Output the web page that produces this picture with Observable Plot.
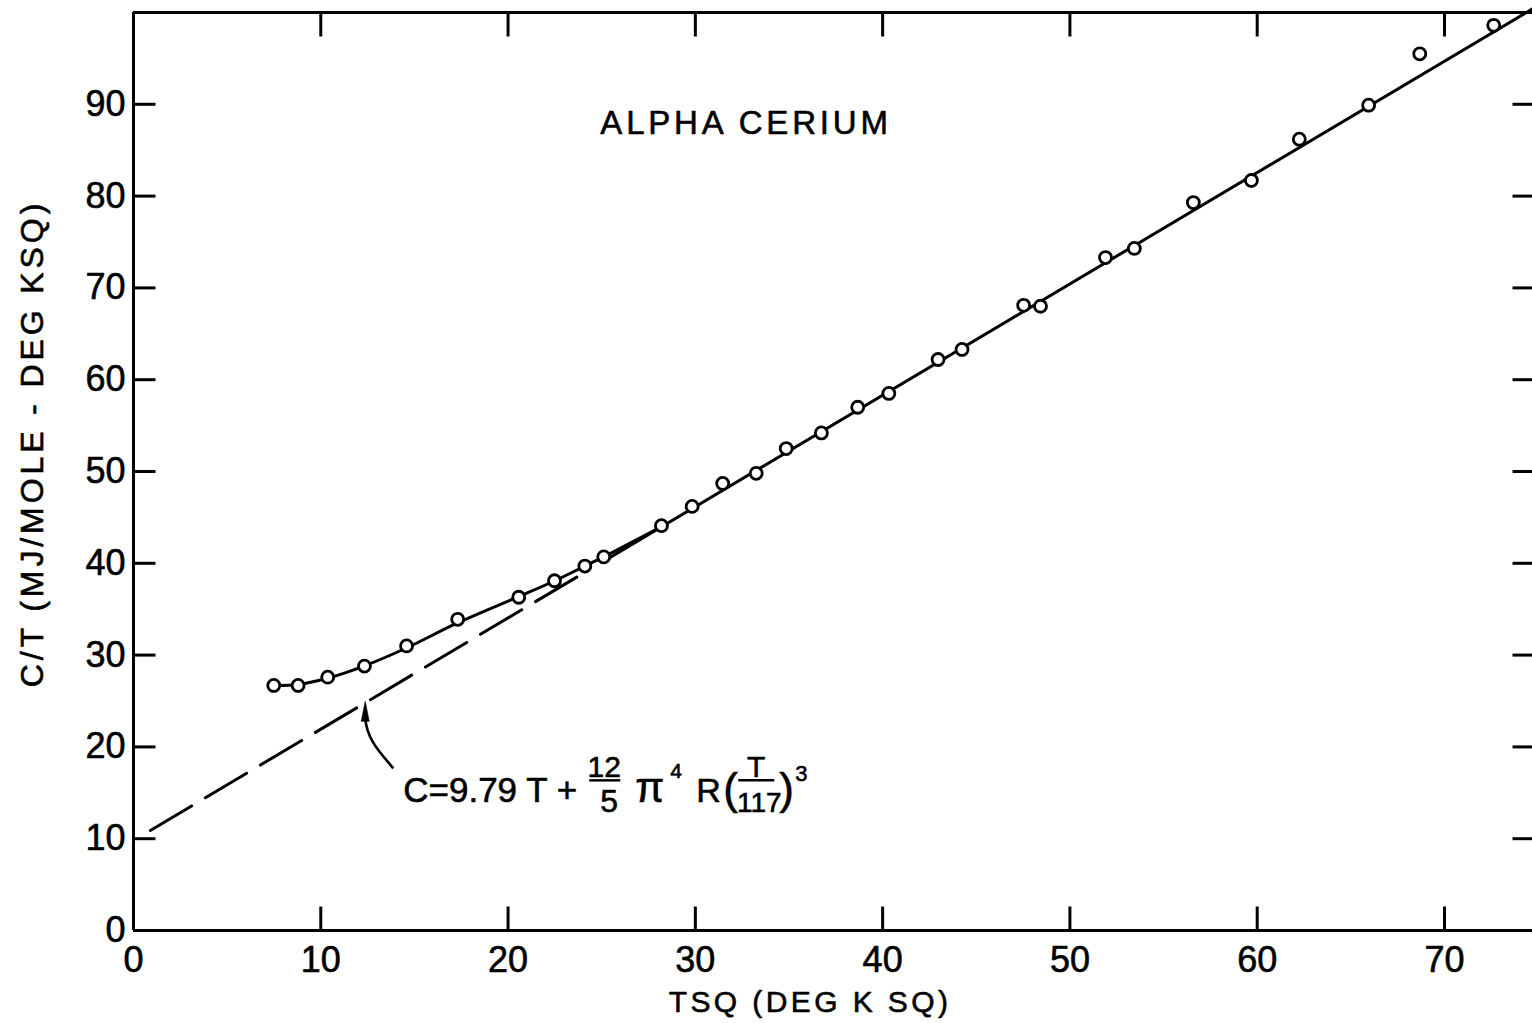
<!DOCTYPE html>
<html>
<head>
<meta charset="utf-8">
<script src="https://cdn.jsdelivr.net/npm/d3@7"></script>
<script src="https://cdn.jsdelivr.net/npm/@observablehq/plot@0.6"></script>
<style>
  html, body { margin: 0; padding: 0; background: #fff; }
  #chart svg { display: block; }
</style>
</head>
<body>
<div id="chart"></div>
<script>
// ---- data ----
const tsq = [7.49, 8.79, 10.37, 12.33, 14.58, 17.31, 20.57, 22.48, 24.10, 25.11, 28.19, 29.83,
             31.46, 33.25, 34.85, 36.73, 38.67, 40.33, 42.96, 44.24, 47.53, 48.43, 51.9, 53.44,
             56.59, 59.69, 62.25, 65.95, 68.68, 72.63];
const cOverT = [26.7, 26.7, 27.6, 28.8, 31.0, 33.9, 36.3, 38.1, 39.7, 40.7, 44.1, 46.2,
                48.7, 49.8, 52.5, 54.2, 57.0, 58.5, 62.2, 63.3, 68.1, 68.0, 73.3, 74.3,
                79.3, 81.7, 86.2, 89.9, 95.5, 98.6];
// smooth curve through the low-temperature points
const curveX = [7.5, 8.8, 10.4, 12.3, 14.6, 17.3, 20.6, 22.5, 24.1, 25.1, 28.2];
const curveY = [26.7, 26.8, 27.5, 28.8, 30.8, 33.5, 36.4, 38.1, 39.7, 40.7, 44.0];
// straight Debye-fit line: dashed part and solid part
const dashX = [0.9, 24.0];
const dashY = [10.9, 38.9];
const fitX = [25.0, 74.7];
const fitY = [40.1, 100.4];
// axes
const xTicks = [0, 10, 20, 30, 40, 50, 60, 70];
const yTicks = [0, 10, 20, 30, 40, 50, 60, 70, 80, 90];
const xMax = 74.7;
const yMax = 100;
const title = "ALPHA CERIUM";
const xLabel = "TSQ (DEG K SQ)";
const yLabel = "C/T (MJ/MOLE - DEG KSQ)";
// annotation: arrow tip on the dashed line
const arrowTip = {x: 12.4, y: 24.8};

// ---- build tables ----
const points = tsq.map((x, i) => ({x, y: cOverT[i]}));
const curve = curveX.map((x, i) => ({x, y: curveY[i]}));
const dash = dashX.map((x, i) => ({x, y: dashY[i]}));
const fit = fitX.map((x, i) => ({x, y: fitY[i]}));

const FONT = "'Liberation Sans', Arial, sans-serif";
const tickSym = (dx, dy) => ({draw(ctx) { ctx.moveTo(0, 0); ctx.lineTo(dx, dy); }});
const inner = (arr) => arr.filter(d => d !== 0);

const plot = Plot.plot({
  width: 1532,
  height: 1023,
  marginLeft: 133,
  marginRight: 0,
  marginTop: 12,
  marginBottom: 93,
  x: {domain: [0, xMax], axis: null},
  y: {domain: [0, yMax], axis: null},
  style: {fontFamily: FONT, background: "#fff", color: "#000", overflow: "visible"},
  marks: [
    // frame (left, bottom, top)
    Plot.ruleX([0], {stroke: "#000", strokeWidth: 3}),
    Plot.ruleY([0], {stroke: "#000", strokeWidth: 3}),
    Plot.ruleY([yMax], {stroke: "#000", strokeWidth: 3}),
    // inward ticks on all four sides
    Plot.dot(inner(xTicks), {x: d => d, y: () => 0, r: 1, symbol: tickSym(0, -24), stroke: "#000", strokeWidth: 3, fill: "none"}),
    Plot.dot(inner(xTicks), {x: d => d, y: () => yMax, r: 1, symbol: tickSym(0, 24), stroke: "#000", strokeWidth: 3, fill: "none"}),
    Plot.dot(inner(yTicks), {x: () => 0, y: d => d, r: 1, symbol: tickSym(22, 0), stroke: "#000", strokeWidth: 3, fill: "none"}),
    Plot.dot(inner(yTicks), {x: () => xMax, y: d => d, r: 1, symbol: tickSym(-20, 0), stroke: "#000", strokeWidth: 3, fill: "none"}),
    // tick labels
    Plot.text(xTicks, {x: d => d, y: () => 0, text: d => String(d), dy: 30, fontSize: 36, fill: "#000", stroke: "#000", strokeWidth: 0.6}),
    Plot.text(yTicks, {x: () => 0, y: d => d, text: d => String(d), dx: -8, textAnchor: "end", fontSize: 36, fill: "#000", stroke: "#000", strokeWidth: 0.6}),
    // axis labels and title
    Plot.text([xLabel], {frameAnchor: "bottom", text: d => d, dx: -23, dy: 72, textAnchor: "middle", lineAnchor: "middle", fontSize: 30, fill: "#000", stroke: "#000", strokeWidth: 0.6}),
    Plot.text([yLabel], {frameAnchor: "left", text: d => d, dx: -101, dy: -28, rotate: -90, textAnchor: "middle", lineAnchor: "middle", fontSize: 32, fill: "#000", stroke: "#000", strokeWidth: 0.6}),
    Plot.text([title], {frameAnchor: "top", text: d => d, dx: -87, dy: 111, textAnchor: "middle", lineAnchor: "middle", fontSize: 33, fill: "#000", stroke: "#000", strokeWidth: 0.6}),
    // lines
    Plot.line(dash, {x: "x", y: "y", stroke: "#000", strokeWidth: 3, strokeDasharray: "48,16"}),
    Plot.line(fit, {x: "x", y: "y", stroke: "#000", strokeWidth: 3}),
    Plot.line(curve, {x: "x", y: "y", stroke: "#000", strokeWidth: 3, curve: "catmull-rom"}),
    // data points
    Plot.dot(points, {x: "x", y: "y", r: 6, stroke: "#000", strokeWidth: 2.8, fill: "#fff"})
  ]
});

document.getElementById("chart").appendChild(plot);

// letter spacing on the lettered labels
const svg = d3.select(plot);
svg.selectAll("text").filter(function () { return this.textContent === title; }).attr("letter-spacing", 3.8);
svg.selectAll("text").filter(function () { return this.textContent === yLabel; }).attr("letter-spacing", 3.9);
svg.selectAll("text").filter(function () { return this.textContent === xLabel; }).attr("letter-spacing", 3.4);

// formula annotation with arrow, anchored on the dashed line via the plot scales
const sx = plot.scale("x"), sy = plot.scale("y");
const g = svg.append("g")
  .attr("transform", `translate(${sx.apply(arrowTip.x)},${sy.apply(arrowTip.y)})`)
  .attr("font-family", FONT).attr("fill", "#000").attr("text-anchor", "start")
  .attr("stroke", "#000").attr("stroke-width", 0.6);
g.append("path").attr("d", "M28,66 C15,50 2,38 0,16").attr("fill", "none").attr("stroke", "#000").attr("stroke-width", 2.6);
g.append("path").attr("d", "M0,-1 L-4,19 L4,19 Z").attr("fill", "#000");
const f = g.append("g").attr("transform", "translate(38,100)");
const piece = (t, x, y, fs, anchor) => f.append("text")
  .attr("x", x).attr("y", y).attr("font-size", fs)
  .attr("text-anchor", anchor || "start").text(t);
piece("C=9.79 T +", 0, 0, 35);
piece("12", 201, -25, 30, "middle");
f.append("line").attr("x1", 186).attr("x2", 217).attr("y1", -22).attr("y2", -22).attr("stroke", "#000").attr("stroke-width", 2.5);
piece("5", 206, 10, 32, "middle");
piece("\u03C0", 232, 0, 42);
piece("4", 267, -24, 21);
piece("R", 293, 0, 34);
piece("(", 320, 2, 44);
piece("T", 353, -25, 30, "middle");
f.append("line").attr("x1", 335).attr("x2", 371).attr("y1", -22).attr("y2", -22).attr("stroke", "#000").attr("stroke-width", 2.5);
piece("117", 356, 10, 28, "middle");
piece(")", 376, 2, 44);
piece("3", 392, -21, 22);
</script>
</body>
</html>
